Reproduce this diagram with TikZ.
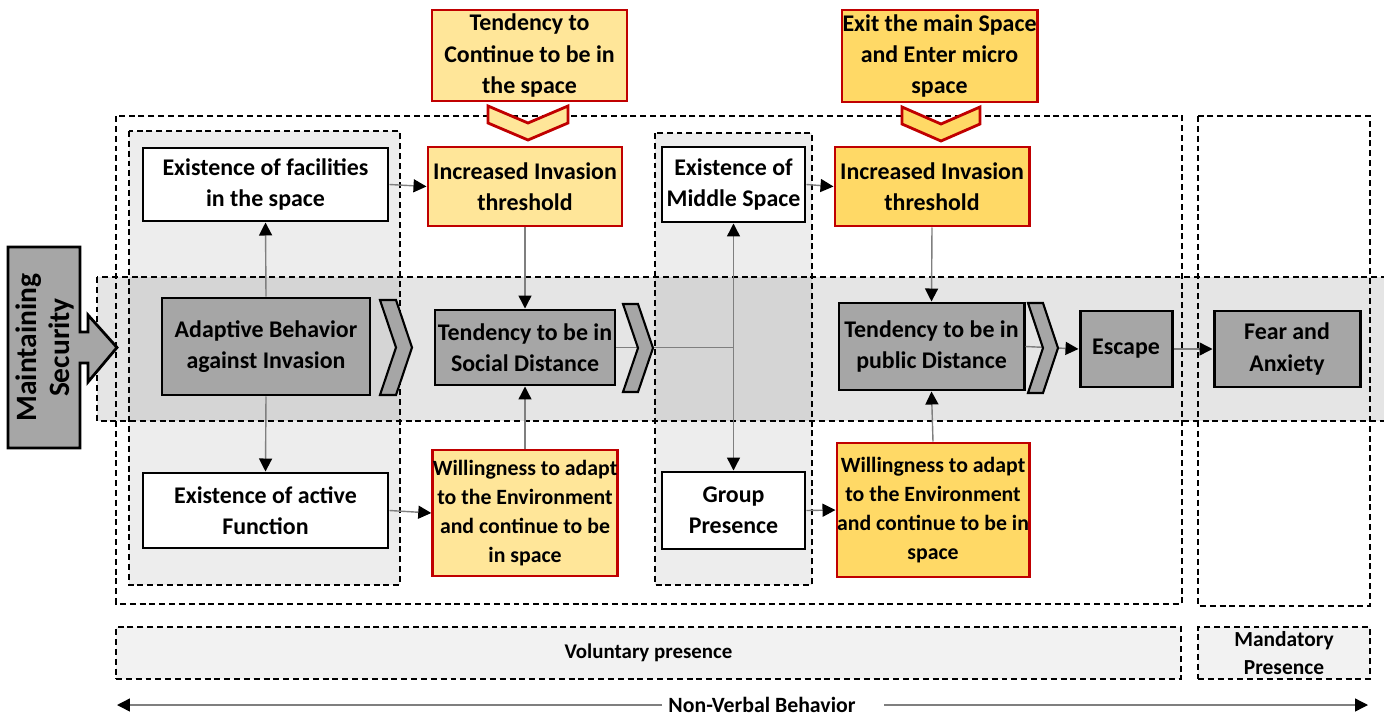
\documentclass[tikz,border=0pt]{standalone}
\usepackage{fontspec}
\setmainfont{Carlito}
\usetikzlibrary{arrows.meta}
\definecolor{boxgrey}{HTML}{A6A6A6}
\definecolor{lightyel}{HTML}{FFE699}
\definecolor{darkyel}{HTML}{FFD966}
\definecolor{redline}{HTML}{C00000}
\definecolor{connline}{HTML}{7F7F7F}
\definecolor{panel}{HTML}{F2F2F2}
\tikzset{
  btip/.tip={Triangle[length=0.26cm, width=0.26cm, color=black]},
  sz/.style 2 args={minimum width={#1*0.02cm}, minimum height={#2*0.02cm}},
  txt/.style={font=\fontsize{13.6}{17.9}\selectfont\bfseries},
  smalltxt/.style={font=\fontsize{12.4}{16.4}\selectfont\bfseries},
  box/.style={draw=black, line width=1.7pt, inner sep=0pt, align=center, txt},
  whitebox/.style={box, fill=white},
  greybox/.style={box, fill=boxgrey},
  yelbox/.style={box, draw=redline, fill=lightyel},
  darkyelbox/.style={box, draw=redline, fill=darkyel},
  dbox/.style={draw=black, line width=0.6pt, dash pattern=on 3.4pt off 2.2pt},
  link/.style={draw=connline, line width=0.8pt, -{btip}},
  plainlink/.style={draw=connline, line width=0.8pt},
  rchev/.style={draw=black, line width=1.2pt, fill=boxgrey, line join=miter},
  dchev/.style={draw=redline, line width=1.6pt, line join=miter},
}
\begin{document}
\begin{tikzpicture}[x=0.02cm, y=-0.02cm]
\useasboundingbox (0,0) rectangle (1384,717);
\clip (0,0) rectangle (1384,717);

% shaded zones
\fill[black, fill opacity=0.07] (129,131) rectangle (400,585);
\fill[black, fill opacity=0.07] (655,133) rectangle (812,585);
\fill[black, fill opacity=0.1] (97,277) rectangle (1395,421);
\draw[dbox] (129,131) rectangle (400,585);
\draw[dbox] (655,133) rectangle (812,585);
\draw[dbox] (97,277) rectangle (1395,421);
\draw[dbox] (116,116) rectangle (1182,604);
\draw[dbox] (1198,116) rectangle (1370,606);

% security arrow
\draw[fill=boxgrey, draw=black, line width=1.6pt, line join=miter]
  (8,247) -- (80,247) -- (80,332) -- (88,332) -- (88,315) -- (117,347.5)
  -- (88,382) -- (88,363) -- (80,363) -- (80,448) -- (8,448) -- cycle;
\node[rotate=90, align=center, font=\fontsize{16.8}{18.6}\selectfont\bfseries]
  (sec) at (45,347.5) {Maintaining\\Security};

% boxes
\node[whitebox, sz={245}{73}] (fac) at (265.5,184.5) {Existence of facilities\\in the space};
\node[greybox, sz={208}{97}] (adapt) at (266,346.5) {Adaptive Behavior\\against Invasion};
\node[whitebox, sz={245}{75}] (act) at (265.5,510.5) {Existence of active\\Function};

\node[yelbox, sz={195}{91}] (top1) at (529.5,55.5) {Tendency to\\Continue to be in\\the space};
\node[yelbox, sz={194}{79}] (inc1) at (525,186.5) {Increased Invasion\\threshold};
\node[greybox, sz={180}{75}] (soc) at (525,347.5) {Tendency to be in\\Social Distance};
\node[yelbox, sz={184}{126}, smalltxt] (will1) at (525,513) {Willingness to adapt\\to the Environment\\and continue to be\\in space};

\node[whitebox, sz={143}{75}] (mid) at (733.5,184.5) {Existence of\\Middle Space};
\node[whitebox, sz={143}{77}] (grp) at (733.5,510.5) {Group\\Presence};

\node[darkyelbox, sz={195}{92}] (top2) at (939.5,56) {Exit the main Space\\and Enter micro\\space};
\node[darkyelbox, sz={194}{79}] (inc2) at (932,186.5) {Increased Invasion\\threshold};
\node[greybox, sz={185}{87}] (pub) at (931.5,346.5) {Tendency to be in\\public Distance};
\node[darkyelbox, sz={192}{134}, smalltxt] (will2) at (933,510) {Willingness to adapt\\to the Environment\\and continue to be in\\space};

\node[greybox, sz={92}{76}] (esc) at (1126,349) {Escape};
\node[greybox, sz={146}{76}] (fear) at (1287,349) {Fear and\\Anxiety};

% connectors
\draw[link] (adapt.north) -- (fac.south);
\draw[link] (adapt.south) -- (act.north);
\draw[link] (fac.east) -- (inc1.west);
\draw[link] (act.east) -- (will1.west);
\draw[link] (inc1.south) -- (soc.north);
\draw[link] (will1.north) -- (soc.south);
\coordinate (junc) at (mid.south |- soc.east);
\draw[plainlink] (soc.east) -- (junc);
\draw[plainlink, {btip}-{btip}] (mid.south) -- (grp.north);
\draw[link] (mid.east) -- (inc2.west);
\draw[link] (grp.east) -- (will2.west);
\draw[link] (inc2.south) -- (pub.north);
\draw[link] (will2.north) -- (pub.south);
\draw[link] (pub.east) -- (esc.west);
\draw[link] (esc.east) -- (fear.west);

% chevrons
\draw[rchev] (380,300) -- (396,300) -- (412,347.5) -- (396,395) -- (380,395) -- (396,347.5) -- cycle;
\draw[rchev] (623,304) -- (638,304) -- (653,348) -- (638,392) -- (623,392) -- (638,348) -- cycle;
\draw[rchev] (1028,303) -- (1043,303) -- (1058,348) -- (1043,393) -- (1028,393) -- (1043,348) -- cycle;
\draw[dchev, fill=lightyel] (488,106) -- (528,123) -- (568,106) -- (568,123) -- (528,140) -- (488,123) -- cycle;
\draw[dchev, fill=darkyel] (902,107) -- (941,124) -- (980,107) -- (980,124) -- (941,141) -- (902,124) -- cycle;

% presence bands
\node[dbox, fill=panel, sz={1065}{52}, inner sep=0pt, font=\fontsize{11.9}{15}\selectfont\bfseries] (vol) at (648.5,653) {Voluntary presence};
\node[dbox, fill=panel, sz={172}{52}, inner sep=0pt, align=center, font=\fontsize{12.2}{16.4}\selectfont\bfseries] (man) at (1284,653) {Mandatory\\Presence};

% behaviour axis
\node[inner sep=0pt, font=\fontsize{12.4}{15}\selectfont\bfseries] (nvb) at (762,705) {Non-Verbal Behavior};
\coordinate (axl) at (117,705);
\coordinate (axr) at (1368,705);
\coordinate (gapl) at (662,705);
\coordinate (gapr) at (884,705);
\draw[link] (gapl) -- (axl);
\draw[link] (gapr) -- (axr);
\end{tikzpicture}
\end{document}
